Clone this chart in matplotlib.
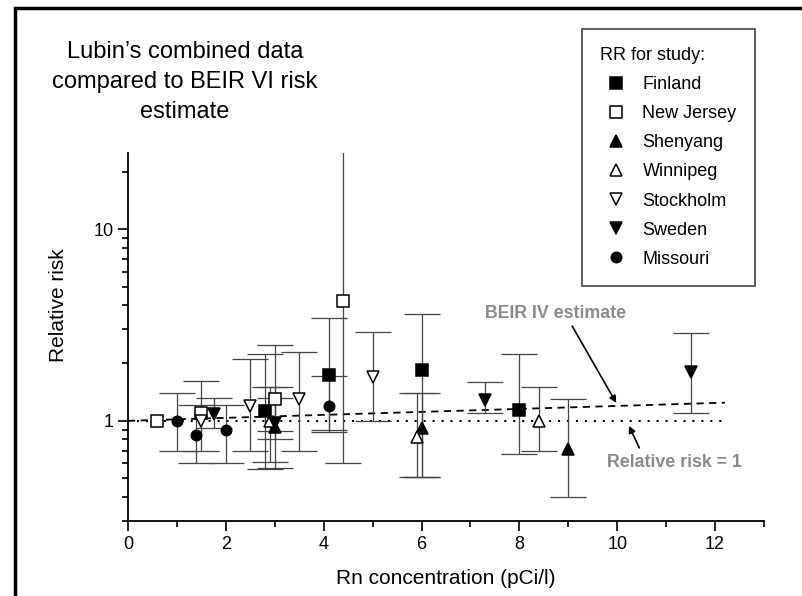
import numpy as np
import matplotlib
matplotlib.use("Agg")
import matplotlib.pyplot as plt
from matplotlib.patches import Rectangle

plt.rcParams['font.family'] = ['Liberation Sans', 'DejaVu Sans']

# --- data: (Rn, RR, lower CI, upper CI) ---
nan = np.nan
finland_x = [2.8, 4.1, 6.0, 8.0]
finland_rr = [1.13, 1.74, 1.85, 1.14]
finland_lo = [0.56, 0.90, 0.51, 0.67]
finland_hi = [2.22, 3.43, 3.60, 2.22]

newjersey_x = [0.6, 1.5, 3.0, 4.4]
newjersey_rr = [1.0, 1.1, 1.3, 4.2]
newjersey_lo = [nan, nan, 0.89, 0.60]
newjersey_hi = [nan, nan, 1.50, 40.0]

shenyang_x = [3.0, 6.0, 9.0]
shenyang_rr = [0.93, 0.92, 0.71]
shenyang_lo = [0.57, 0.51, 0.40]
shenyang_hi = [2.50, 1.40, 1.30]

winnipeg_x = [2.9, 5.9, 8.4]
winnipeg_rr = [1.0, 0.82, 1.0]
winnipeg_lo = [0.61, 0.51, 0.70]
winnipeg_hi = [1.50, 1.40, 1.50]

stockholm_x = [1.5, 2.5, 3.5, 5.0]
stockholm_rr = [1.0, 1.2, 1.3, 1.69]
stockholm_lo = [0.70, 0.70, 0.70, 1.00]
stockholm_hi = [1.61, 2.10, 2.30, 2.90]

sweden_x = [1.75, 3.0, 7.3, 11.5]
sweden_rr = [1.09, 0.97, 1.29, 1.79]
sweden_lo = [0.92, 0.80, 1.10, 1.10]
sweden_hi = [1.31, 1.31, 1.60, 2.88]

missouri_x = [1.0, 1.4, 2.0, 4.1]
missouri_rr = [1.0, 0.845, 0.90, 1.20]
missouri_lo = [0.70, 0.60, 0.60, 0.87]
missouri_hi = [1.40, 1.21, 1.21, 1.72]

beir_x = [0.0, 12.2]
beir_rr = [1.0, 1.244]
ref_x = [0.0, 12.2]
ref_rr = [1.0, 1.0]

series = [
    ("Finland", finland_x, finland_rr, finland_lo, finland_hi, 's', 'black', 8),
    ("New Jersey", newjersey_x, newjersey_rr, newjersey_lo, newjersey_hi, 's', 'white', 8),
    ("Shenyang", shenyang_x, shenyang_rr, shenyang_lo, shenyang_hi, '^', 'black', 9),
    ("Winnipeg", winnipeg_x, winnipeg_rr, winnipeg_lo, winnipeg_hi, '^', 'white', 9),
    ("Stockholm", stockholm_x, stockholm_rr, stockholm_lo, stockholm_hi, 'v', 'white', 9),
    ("Sweden", sweden_x, sweden_rr, sweden_lo, sweden_hi, 'v', 'black', 9),
    ("Missouri", missouri_x, missouri_rr, missouri_lo, missouri_hi, 'o', 'black', 7.5),
]

fig = plt.figure(figsize=(8.03, 5.96), dpi=100)
ax = fig.add_axes([128 / 803, 1 - 521 / 596, 636 / 803, 368 / 596])

ax.plot(beir_x, beir_rr, color='black', ls=(0, (4, 3)), lw=1.3, zorder=1)
ax.plot(ref_x, ref_rr, color='black', ls=(0, (1, 3.3)), lw=1.5, zorder=1)

for name, x, rr, lo, hi, mk, fc, ms in series:
    rr_a = np.array(rr)
    yerr = np.vstack([rr_a - np.array(lo), np.array(hi) - rr_a])
    ax.errorbar(x, rr, yerr=yerr, fmt='none', ecolor='#444444', elinewidth=0.9,
                capsize=13, capthick=0.9, zorder=2)
    ax.plot(x, rr, ls='none', marker=mk, ms=ms, mfc=fc, mec='black', mew=1.1,
            label=name, zorder=3)

ax.set_yscale('log')
ax.set_xlim(0, 13)
ax.set_ylim(0.3, 25)
ax.set_xticks(range(0, 13, 2))
ax.set_xticks(range(1, 14, 2), minor=True)
ax.set_yticks([1, 10], labels=['1', '10'])
ax.yaxis.set_minor_formatter(plt.NullFormatter())
ax.tick_params(which='major', length=7, width=1.2, labelsize=13, direction='out')
ax.tick_params(which='minor', length=4.5, width=1.2, direction='out')
for s in ['top', 'right']:
    ax.spines[s].set_visible(False)
for s in ['left', 'bottom']:
    ax.spines[s].set_linewidth(1.3)

ax.set_xlabel("Rn concentration (pCi/l)", fontsize=15, labelpad=12)
ax.set_ylabel("Relative risk", fontsize=15)
ax.yaxis.set_label_coords(-0.094, 0.587)

# annotations
ax.text(8.73, 3.65, "BEIR IV estimate", color='#8a8a8a', fontsize=12.8,
        fontweight='bold', ha='center', va='center')
ax.annotate('', xy=(9.98, 1.24), xytext=(9.08, 3.12),
            arrowprops=dict(arrowstyle='-|>', color='black', lw=1.2, mutation_scale=10,
                            shrinkA=0, shrinkB=0))
ax.text(11.16, 0.604, "Relative risk = 1", color='#8a8a8a', fontsize=12.8,
        fontweight='bold', ha='center', va='center')
ax.annotate('', xy=(10.24, 0.942), xytext=(10.45, 0.723),
            arrowprops=dict(arrowstyle='-|>', color='black', lw=1.2, mutation_scale=10,
                            shrinkA=0, shrinkB=0))

leg = ax.legend(title="RR for study:", loc='upper left',
                bbox_to_anchor=(582 / 803, 1 - 29 / 596), bbox_transform=fig.transFigure,
                fontsize=13, title_fontsize=13, frameon=True, fancybox=False,
                edgecolor='#222222', borderaxespad=0, borderpad=1.0, handlelength=1.8,
                handletextpad=0.55, labelspacing=0.67, alignment='left')
leg.get_frame().set_linewidth(1.3)

fig.text(185 / 803, 1 - 82 / 596, "Lubin\u2019s combined data\ncompared to BEIR VI risk\nestimate",
         fontsize=17, ha='center', va='center', linespacing=1.45)

fig.add_artist(Rectangle((15 / 803, -0.05), 1.1, 1 - 8 / 596 + 0.05, transform=fig.transFigure,
                         fill=False, edgecolor='black', lw=2.5))

fig.savefig("out.png", dpi=100)
